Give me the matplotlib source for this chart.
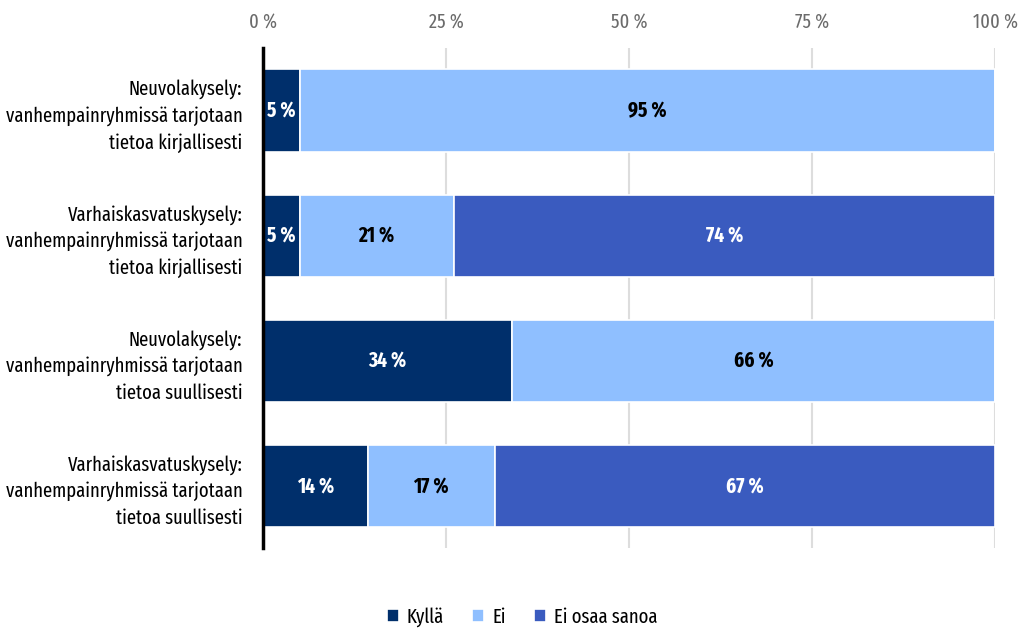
import numpy as np
import matplotlib.pyplot as plt
from matplotlib.ticker import FuncFormatter

plt.rcParams['font.family'] = ['Fira Sans Extra Condensed', 'Fira Sans Condensed', 'DejaVu Sans']

categories = [
    'Neuvolakysely:\nvanhempainryhmissä tarjotaan\ntietoa kirjallisesti',
    'Varhaiskasvatuskysely:\nvanhempainryhmissä tarjotaan\ntietoa kirjallisesti',
    'Neuvolakysely:\nvanhempainryhmissä tarjotaan\ntietoa suullisesti',
    'Varhaiskasvatuskysely:\nvanhempainryhmissä tarjotaan\ntietoa suullisesti',
]
kylla = [5, 5, 34, 14]
ei = [95, 21, 66, 17]
ei_osaa = [0, 74, 0, 67]

series = [('Kyllä', kylla, '#002f6b', 'white'),
          ('Ei', ei, '#8fbfff', 'black'),
          ('Ei osaa sanoa', ei_osaa, '#3a5bbf', 'white')]

# bars are shares of the row total, labels keep the reported values
totals = np.array(kylla) + np.array(ei) + np.array(ei_osaa)

fig, ax = plt.subplots(figsize=(10.24, 6.34), dpi=100)
fig.subplots_adjust(left=0.257, right=0.972, top=0.924, bottom=0.135)

y = np.arange(len(categories))
left = np.zeros(len(categories))
for name, vals, color, txtcolor in series:
    vals = np.array(vals, dtype=float)
    share = vals / totals * 100
    ax.barh(y, share, left=left, height=0.66, color=color, edgecolor='white',
            linewidth=1.2, label=name, zorder=3)
    for i, (v, s) in enumerate(zip(vals, share)):
        if v > 0:
            ax.text(left[i] + s / 2, y[i], f'{v:.0f} %', ha='center', va='center',
                    color=txtcolor, fontsize=15, fontweight='bold', zorder=4)
    left += share

ax.set_xlim(0, 100)
ax.set_ylim(3.5, -0.5)
ax.set_yticks(y)
ax.set_yticklabels(categories, fontsize=14.5, linespacing=1.45)
ax.set_xticks([0, 25, 50, 75, 100])
ax.xaxis.set_major_formatter(FuncFormatter(lambda v, p: f'{v:.0f} %'))
ax.xaxis.tick_top()
ax.tick_params(axis='x', length=0, labelsize=14.5, labelcolor='#6b6b6b', pad=12)
ax.tick_params(axis='y', length=0, pad=15)
ax.grid(axis='x', color='#dddddd', linewidth=1.5, zorder=0)

for s in ['top', 'right', 'bottom']:
    ax.spines[s].set_visible(False)
ax.spines['left'].set_linewidth(2.5)
ax.spines['left'].set_zorder(5)

fig.legend(loc='lower center', bbox_to_anchor=(0.51, -0.018), ncol=3, frameon=False,
           fontsize=14.5, handlelength=0.6, handleheight=0.6, columnspacing=1.4,
           handletextpad=0.4)

plt.savefig('out.png', dpi=100)
